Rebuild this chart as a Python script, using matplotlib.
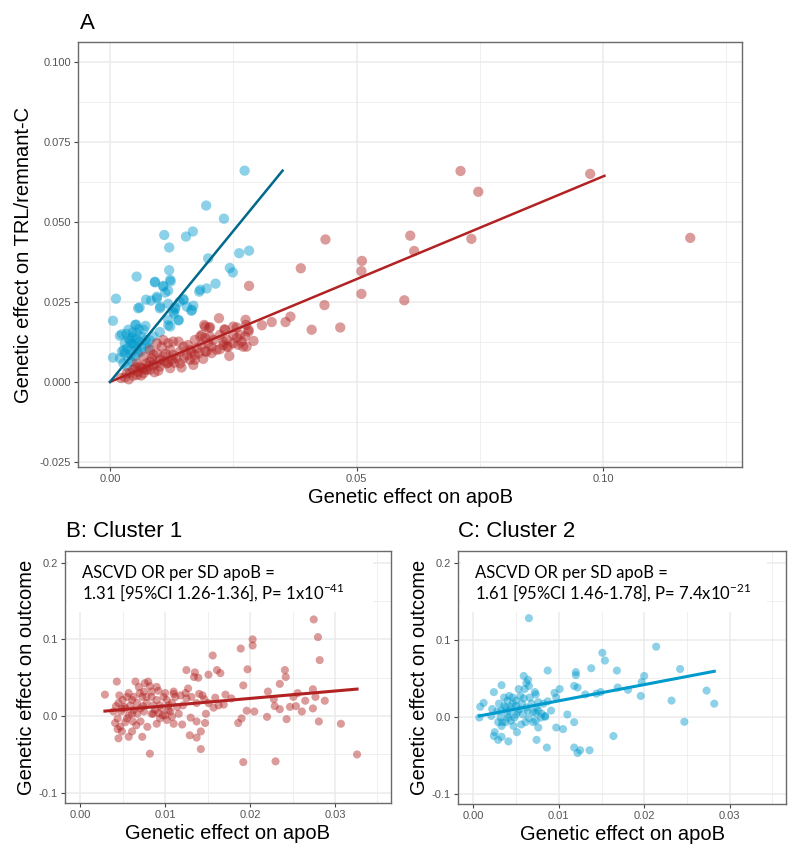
"""
Clustered MR plot: panel A shows both clusters of variants (TRL/remnant-C vs apoB),
panels B and C show each cluster against ASCVD outcome.
"""
import matplotlib
matplotlib.use("Agg")
import matplotlib.pyplot as plt
from matplotlib.patches import Rectangle
import numpy as np

plt.rcParams["font.family"] = ["Liberation Sans", "DejaVu Sans"]

RED = "#B22222"
BLUE = "#009ACD"
BLUE_DARK = "#00688B"
GRID = "#EBEBEB"
TICK_COL = "#555555"

# ---- panel A: cluster 1 (red) ----
a_c1_x = [0.0711, 0.0747, 0.0974, 0.1177, 0.0437, 0.0387, 0.0609, 0.0617, 0.0733, 0.0511,
          0.0510, 0.0510, 0.0597, 0.0435, 0.0366, 0.0356, 0.0409, 0.0467, 0.0282, 0.0328,
          0.0308, 0.0275, 0.0221, 0.0276, 0.0257, 0.0281, 0.0232, 0.0193, 0.0203, 0.0186,
          0.0203, 0.0193, 0.0250, 0.0274, 0.0291, 0.0267, 0.0230, 0.0260, 0.0277, 0.0240,
          0.0223, 0.0199, 0.0172, 0.0172, 0.0193, 0.0206, 0.0189, 0.0242, 0.0230, 0.0191,
          0.0201, 0.0233, 0.0250, 0.0281, 0.0183, 0.0210, 0.0237, 0.0257, 0.0270, 0.0237,
          0.0216, 0.0196, 0.0172, 0.0149, 0.0139, 0.0118, 0.0105, 0.0095, 0.0085, 0.0074,
          0.0061, 0.0047, 0.0034, 0.0030, 0.0047, 0.0068, 0.0081, 0.0101, 0.0122, 0.0142,
          0.0162, 0.0095, 0.0108, 0.0128, 0.0142, 0.0162, 0.0122, 0.0101, 0.0088, 0.0074,
          0.0057, 0.0041, 0.0115, 0.0135, 0.0156, 0.0169, 0.0128, 0.0108, 0.0095, 0.0081,
          0.0068, 0.0054, 0.0081, 0.0064, 0.0186, 0.0176, 0.0206, 0.0223, 0.0250, 0.0264,
          0.0022, 0.0038, 0.0055, 0.0070, 0.0090, 0.0110, 0.0130, 0.0150, 0.0165, 0.0180,
          0.0063, 0.0078, 0.0098, 0.0113, 0.0125, 0.0145, 0.0158, 0.0052, 0.0088, 0.0118]
a_c1_y = [0.0659, 0.0594, 0.0650, 0.0450, 0.0445, 0.0355, 0.0457, 0.0409, 0.0447, 0.0378,
          0.0346, 0.0275, 0.0255, 0.0240, 0.0204, 0.0187, 0.0163, 0.0170, 0.0300, 0.0187,
          0.0177, 0.0194, 0.0199, 0.0178, 0.0170, 0.0163, 0.0164, 0.0173, 0.0171, 0.0147,
          0.0142, 0.0137, 0.0147, 0.0142, 0.0128, 0.0126, 0.0126, 0.0116, 0.0110, 0.0110,
          0.0102, 0.0121, 0.0131, 0.0069, 0.0095, 0.0090, 0.0072, 0.0081, 0.0116, 0.0178,
          0.0169, 0.0163, 0.0173, 0.0157, 0.0142, 0.0131, 0.0131, 0.0137, 0.0110, 0.0110,
          0.0100, 0.0095, 0.0084, 0.0110, 0.0126, 0.0121, 0.0110, 0.0090, 0.0074, 0.0058,
          0.0048, 0.0038, 0.0027, 0.0014, 0.0019, 0.0027, 0.0038, 0.0048, 0.0043, 0.0058,
          0.0069, 0.0058, 0.0079, 0.0084, 0.0095, 0.0100, 0.0100, 0.0069, 0.0053, 0.0038,
          0.0032, 0.0029, 0.0058, 0.0074, 0.0084, 0.0053, 0.0126, 0.0131, 0.0121, 0.0100,
          0.0079, 0.0058, 0.0064, 0.0043, 0.0116, 0.0105, 0.0110, 0.0147, 0.0121, 0.0147,
          0.0012, 0.0008, 0.0022, 0.0040, 0.0030, 0.0065, 0.0060, 0.0075, 0.0095, 0.0090,
          0.0020, 0.0050, 0.0035, 0.0088, 0.0070, 0.0045, 0.0115, 0.0045, 0.0085, 0.0060]

# ---- panel A: cluster 2 (blue) ----
a_c2_x = [0.0273, 0.0195, 0.0231, 0.0110, 0.0154, 0.0168, 0.0120, 0.0199, 0.0262, 0.0282,
          0.0120, 0.0243, 0.0249, 0.0054, 0.0091, 0.0123, 0.0108, 0.0118, 0.0214, 0.0196,
          0.0181, 0.0012, 0.0073, 0.0095, 0.0083, 0.0141, 0.0149, 0.0118, 0.0102, 0.0060,
          0.0169, 0.0165, 0.0132, 0.0130, 0.0139, 0.0006, 0.0118, 0.0053, 0.0072, 0.0101,
          0.0024, 0.0006, 0.0020, 0.0030, 0.0024, 0.0037, 0.0051, 0.0054, 0.0068, 0.0071,
          0.0064, 0.0044, 0.0037, 0.0034, 0.0057, 0.0051, 0.0078, 0.0088, 0.0044, 0.0027,
          0.0020, 0.0057, 0.0101, 0.0128, 0.0118, 0.0139, 0.0095, 0.0108, 0.0122, 0.0112,
          0.0149, 0.0132, 0.0156, 0.0166, 0.0122, 0.0183, 0.0091, 0.0040, 0.0045, 0.0048,
          0.0035, 0.0042, 0.0055, 0.0060, 0.0050, 0.0065, 0.0030, 0.0038, 0.0046, 0.0058,
          0.0033, 0.0062, 0.0028, 0.0043, 0.0052, 0.0075, 0.0080]
a_c2_y = [0.0660, 0.0551, 0.0510, 0.0459, 0.0454, 0.0470, 0.0420, 0.0386, 0.0402, 0.0410,
          0.0349, 0.0356, 0.0342, 0.0329, 0.0311, 0.0314, 0.0300, 0.0285, 0.0307, 0.0292,
          0.0282, 0.0260, 0.0257, 0.0266, 0.0254, 0.0250, 0.0259, 0.0244, 0.0235, 0.0233,
          0.0238, 0.0222, 0.0227, 0.0213, 0.0192, 0.0191, 0.0177, 0.0179, 0.0175, 0.0156,
          0.0149, 0.0076, 0.0144, 0.0121, 0.0095, 0.0163, 0.0178, 0.0152, 0.0163, 0.0131,
          0.0110, 0.0100, 0.0074, 0.0048, 0.0090, 0.0121, 0.0105, 0.0142, 0.0063, 0.0058,
          0.0074, 0.0230, 0.0230, 0.0220, 0.0194, 0.0194, 0.0261, 0.0298, 0.0319, 0.0279,
          0.0256, 0.0233, 0.0235, 0.0225, 0.0173, 0.0288, 0.0313, 0.0130, 0.0140, 0.0115,
          0.0105, 0.0085, 0.0105, 0.0125, 0.0080, 0.0140, 0.0090, 0.0135, 0.0155, 0.0165,
          0.0150, 0.0095, 0.0100, 0.0120, 0.0135, 0.0120, 0.0130]

# IVW lines through the origin (slope, x where the drawn line stops)
a_c1_slope, a_c1_xend = 0.642, 0.1003
a_c2_slope, a_c2_xend = 1.886, 0.0350

# ---- panel B: cluster 1 vs outcome ----
b_x = [0.0275, 0.0280, 0.0282, 0.0203, 0.0203, 0.0189, 0.0156, 0.0161, 0.0165, 0.0197,
       0.0192, 0.0241, 0.0242, 0.0235, 0.0151, 0.0125, 0.0135, 0.0134, 0.0139, 0.0221,
       0.0256, 0.0254, 0.0261, 0.0274, 0.0277, 0.0288, 0.0274, 0.0281, 0.0307, 0.0326,
       0.0243, 0.0220, 0.0228, 0.0229, 0.0251, 0.0265, 0.0192, 0.0230, 0.0205, 0.0196,
       0.0186, 0.0190, 0.0169, 0.0171, 0.0157, 0.0151, 0.0159, 0.0148, 0.0147, 0.0142,
       0.0137, 0.0142, 0.0137, 0.0130, 0.0129, 0.0120, 0.0116, 0.0124, 0.0127, 0.0140,
       0.0144, 0.0137, 0.0110, 0.0102, 0.0104, 0.0108, 0.0112, 0.0118, 0.0121, 0.0110,
       0.0100, 0.0094, 0.0096, 0.0098, 0.0092, 0.0090, 0.0088, 0.0086, 0.0084, 0.0082,
       0.0080, 0.0078, 0.0074, 0.0073, 0.0070, 0.0067, 0.0065, 0.0061, 0.0055, 0.0052,
       0.0050, 0.0046, 0.0043, 0.0042, 0.0029, 0.0082, 0.0073, 0.0045, 0.0049, 0.0044,
       0.0041, 0.0044, 0.0047, 0.0053, 0.0057, 0.0062, 0.0063, 0.0067, 0.0071, 0.0075,
       0.0079, 0.0084, 0.0090, 0.0094, 0.0100, 0.0102, 0.0106, 0.0108, 0.0110, 0.0057,
       0.0061, 0.0066, 0.0048, 0.0053, 0.0059, 0.0063, 0.0069, 0.0076, 0.0084, 0.0090,
       0.0078, 0.0071, 0.0061, 0.0055, 0.0049, 0.0039, 0.0045, 0.0057, 0.0075, 0.0086,
       0.0092, 0.0097, 0.0104, 0.0114, 0.0125, 0.0131, 0.0146, 0.0163, 0.0178, 0.0235,
       0.0247]
b_y = [0.126, 0.103, 0.073, 0.100, 0.092, 0.088, 0.079, 0.060, 0.056, 0.061,
       0.040, 0.060, 0.051, 0.042, 0.054, 0.060, 0.057, 0.051, 0.050, 0.032,
       0.030, 0.013, 0.006, 0.035, 0.025, 0.020, 0.010, -0.007, -0.010, -0.050,
       -0.004, -0.001, 0.022, 0.013, 0.025, 0.020, -0.060, -0.059, 0.006, 0.007,
       -0.009, -0.003, 0.015, 0.028, 0.011, 0.017, 0.024, 0.003, -0.009, -0.020,
       -0.028, -0.043, -0.007, -0.002, -0.025, -0.011, 0.003, 0.030, 0.036, 0.029,
       0.027, 0.017, 0.029, 0.021, 0.008, 0.017, 0.025, 0.027, 0.014, 0.032,
       0.030, 0.014, 0.010, 0.025, 0.033, 0.021, 0.008, 0.014, 0.025, 0.039,
       0.045, 0.017, 0.013, 0.025, 0.030, 0.017, 0.045, 0.021, 0.025, 0.012,
       0.021, 0.027, 0.045, 0.013, 0.028, -0.049, -0.027, -0.029, -0.020, -0.017,
       -0.009, -0.003, -0.014, -0.008, 0.001, -0.007, 0.008, 0.003, -0.007, 0.006,
       -0.014, 0.003, -0.010, -0.003, 0.001, -0.005, 0.006, -0.001, -0.010, -0.027,
       -0.020, -0.012, 0.006, 0.010, 0.014, 0.025, 0.038, 0.043, 0.032, 0.038,
       0.025, 0.010, 0.003, -0.003, 0.010, 0.006, 0.017, 0.030, 0.032, 0.003,
       0.004, 0.001, 0.014, 0.012, 0.023, 0.025, 0.022, 0.014, 0.023, 0.009,
       0.012]
b_intercept, b_slope = 0.0037, 0.967

# ---- panel C: cluster 2 vs outcome ----
c_x = [0.0065, 0.0214, 0.0151, 0.0154, 0.0242, 0.0138, 0.0168, 0.0087, 0.0120, 0.0120,
       0.0200, 0.0059, 0.0064, 0.0062, 0.0197, 0.0060, 0.0065, 0.0169, 0.0122, 0.0118,
       0.0181, 0.0273, 0.0033, 0.0095, 0.0101, 0.0131, 0.0144, 0.0149, 0.0196, 0.0232,
       0.0282, 0.0247, 0.0164, 0.0125, 0.0122, 0.0118, 0.0136, 0.0086, 0.0074, 0.0051,
       0.0041, 0.0024, 0.0025, 0.0029, 0.0033, 0.0008, 0.0007, 0.0012, 0.0024, 0.0022,
       0.0030, 0.0033, 0.0036, 0.0040, 0.0042, 0.0046, 0.0050, 0.0053, 0.0055, 0.0057,
       0.0059, 0.0062, 0.0064, 0.0066, 0.0068, 0.0070, 0.0072, 0.0074, 0.0076, 0.0038,
       0.0044, 0.0050, 0.0040, 0.0056, 0.0061, 0.0065, 0.0070, 0.0073, 0.0079, 0.0076,
       0.0073, 0.0080, 0.0084, 0.0087, 0.0091, 0.0097, 0.0097, 0.0105, 0.0110, 0.0118,
       0.0084, 0.0028, 0.0032, 0.0034, 0.0038, 0.0042, 0.0046, 0.0050, 0.0054, 0.0048,
       0.0047, 0.0033, 0.0073, 0.0076, 0.0082, 0.0021, 0.0044, 0.0052, 0.0058, 0.0036,
       0.0029, 0.0041]
c_y = [0.128, 0.091, 0.083, 0.073, 0.062, 0.063, 0.060, 0.060, 0.058, 0.054,
       0.053, 0.053, 0.048, 0.044, 0.045, 0.036, 0.040, 0.038, 0.038, 0.040,
       0.035, 0.034, 0.041, 0.031, 0.036, 0.029, 0.030, 0.032, 0.027, 0.021,
       0.017, -0.0065, -0.025, -0.0435, -0.047, -0.040, -0.0435, -0.040, -0.030, -0.020,
       -0.032, -0.025, -0.020, -0.030, -0.026, 0.013, -0.001, 0.018, 0.032, 0.010,
       0.017, 0.008, 0.014, 0.021, 0.027, 0.025, 0.021, 0.036, 0.027, 0.017,
       0.024, 0.012, 0.008, 0.025, 0.017, 0.006, 0.032, 0.012, 0.008, -0.007,
       -0.005, 0.003, 0.003, -0.010, -0.007, -0.002, -0.007, -0.005, -0.001, -0.014,
       0.005, 0.004, 0.000, 0.020, 0.008, 0.025, -0.014, -0.016, 0.003, -0.007,
       0.001, 0.007, -0.001, -0.007, 0.012, 0.008, 0.017, 0.014, 0.010, -0.001,
       -0.012, -0.012, 0.029, 0.019, 0.017, 0.001, 0.013, 0.007, 0.003, 0.025,
       -0.007, -0.001]
c_intercept, c_slope = -0.0004, 2.108

fig = plt.figure(figsize=(8.0, 8.59), dpi=100)


def style_axes(ax, xmaj, ymaj, xmin_, ymin_):
    ax.set_xticks(xmaj)
    ax.set_yticks(ymaj)
    ax.set_xticks(xmin_, minor=True)
    ax.set_yticks(ymin_, minor=True)
    ax.grid(True, which="major", color=GRID, lw=1.1, zorder=0)
    ax.grid(True, which="minor", color=GRID, lw=0.55, zorder=0)
    ax.set_axisbelow(True)
    for s in ax.spines.values():
        s.set_color("#6a6a6a")
        s.set_linewidth(1.0)
    ax.tick_params(which="major", length=3, width=0.8, color="#444444",
                   labelsize=8, labelcolor=TICK_COL, pad=2)
    ax.tick_params(which="minor", length=0)


# ---------------- panel A ----------------
axA = fig.add_axes([0.0975, 0.4563, 0.83, 0.4948])
axA.scatter(a_c2_x, a_c2_y, s=55, color=BLUE, alpha=0.45, edgecolors="none", zorder=2)
axA.scatter(a_c1_x, a_c1_y, s=55, color=RED, alpha=0.45, edgecolors="none", zorder=3)
lx1 = np.array([0, a_c1_xend])
lx2 = np.array([0, a_c2_xend])
axA.plot(lx1, a_c1_slope * lx1, color=RED, lw=1.8, zorder=4)
axA.plot(lx2, a_c2_slope * lx2, color=BLUE_DARK, lw=1.8, zorder=4)
axA.set_xlim(-0.0065, 0.1282)
axA.set_ylim(-0.0266, 0.1062)
style_axes(axA, [0, 0.05, 0.10], [-0.025, 0, 0.025, 0.05, 0.075, 0.1],
           [0.025, 0.075, 0.125], [-0.0125, 0.0125, 0.0375, 0.0625, 0.0875])
axA.set_xticklabels(["0.00", "0.05", "0.10"])
axA.set_yticklabels(["-0.025", "0.000", "0.025", "0.050", "0.075", "0.100"])
axA.set_xlabel("Genetic effect on apoB", fontsize=14.5, labelpad=3)
axA.set_ylabel("Genetic effect on TRL/remnant-C", fontsize=14.5, labelpad=5)
fig.text(0.1, 0.973, "A", fontsize=16, va="center", ha="left")


# ---------------- panels B and C ----------------
def outcome_panel(rect, xs, ys, color, inter, slope, title, title_x, note2, box_w):
    ax = fig.add_axes(rect)
    ax.scatter(xs, ys, s=34, color=color, alpha=0.45, edgecolors="none", zorder=2)
    fx = np.array([min(xs), max(xs)])
    ax.plot(fx, inter + slope * fx, color=color, lw=2.2, zorder=3)
    ax.set_xlim(-0.0018, 0.0366)
    ax.set_ylim(-0.1133, 0.2153)
    style_axes(ax, [0, 0.01, 0.02, 0.03], [-0.1, 0, 0.1, 0.2],
               [0.005, 0.015, 0.025, 0.035], [-0.05, 0.05, 0.15])
    ax.set_xticklabels(["0.00", "0.01", "0.02", "0.03"])
    ax.set_yticklabels(["-0.1", "0.0", "0.1", "0.2"])
    ax.set_xlabel("Genetic effect on apoB", fontsize=14.5, labelpad=3)
    ax.set_ylabel("Genetic effect on outcome", fontsize=14.5, labelpad=2)
    # white text box pasted over the gridlines
    ax.add_patch(Rectangle((0.01, 0.758), box_w, 0.24, transform=ax.transAxes,
                           facecolor="white", edgecolor="none", zorder=1))
    ax.text(0.052, 0.913, "ASCVD OR per SD apoB =", transform=ax.transAxes,
            fontsize=12, family=["Lato", "DejaVu Sans"], va="center", ha="left", zorder=5)
    ax.text(0.052, 0.837, note2, transform=ax.transAxes,
            fontsize=12, family=["Lato", "DejaVu Sans"], va="center", ha="left", zorder=5)
    fig.text(title_x, 0.381, title, fontsize=16, va="center", ha="left")
    return ax


outcome_panel([0.08125, 0.0652, 0.4075, 0.2934], b_x, b_y, RED,
              b_intercept, b_slope, "B: Cluster 1", 0.083,
              r"1.31 [95%CI 1.26-1.36], P= 1x10$^{\mathregular{-41}}$", 0.935)
outcome_panel([0.5725, 0.064, 0.41, 0.2946], c_x, c_y, BLUE,
              c_intercept, c_slope, "C: Cluster 2", 0.572,
              r"1.61 [95%CI 1.46-1.78], P= 7.4x10$^{\mathregular{-21}}$", 0.932)

fig.savefig("out.png", dpi=100)
